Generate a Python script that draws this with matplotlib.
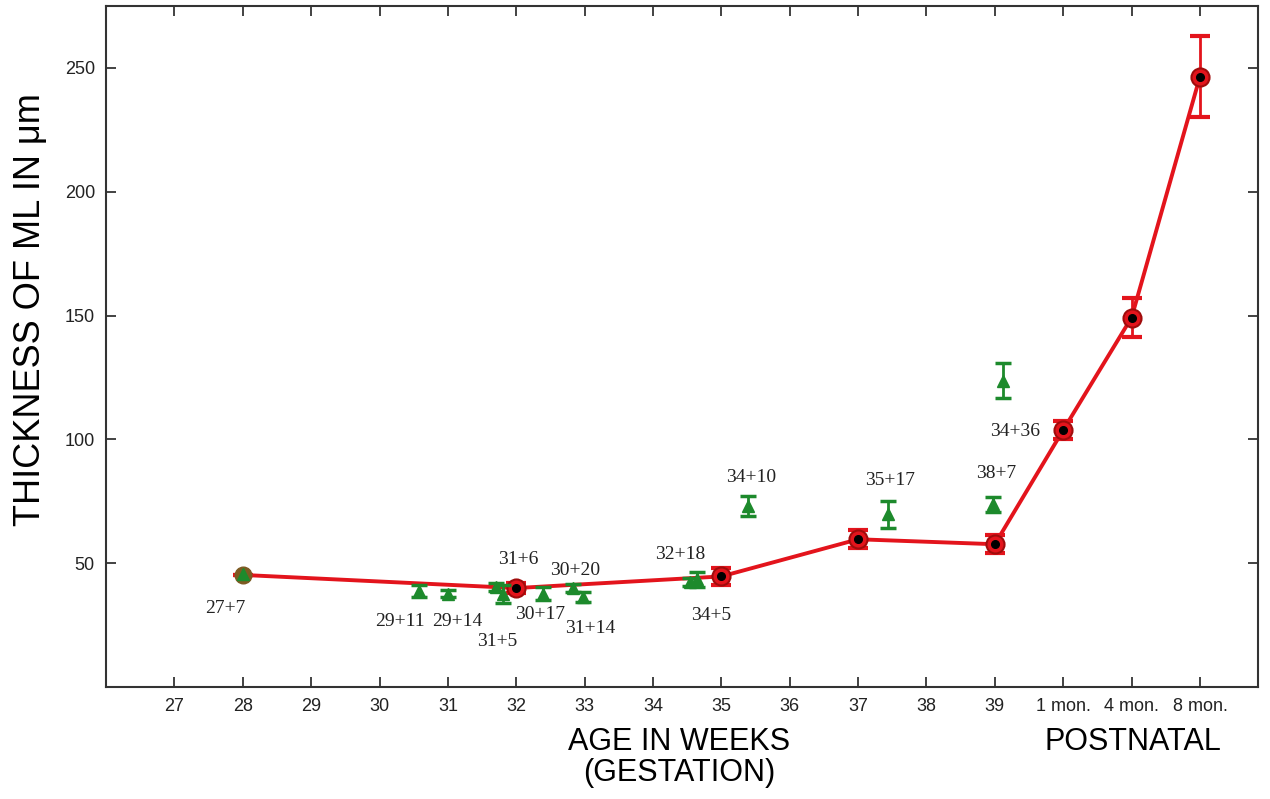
import matplotlib.pyplot as plt

plt.rcParams['font.family'] = 'Liberation Sans'

# age axis: gestational weeks 27-39, then postnatal months on 40-42
tick_pos = list(range(27, 43))
tick_labels = [str(w) for w in range(27, 40)] + ["1 mon.", "4 mon.", "8 mon."]

# mean thickness of ML, reference group (red)
ref_age = [28, 32, 35, 37, 39, 40, 41, 42]
ref_thick = [45.3, 40.0, 44.7, 59.7, 57.7, 103.8, 149.2, 246.5]
ref_err = [0.0, 2.0, 3.6, 3.6, 3.6, 3.5, 8.0, 16.5]

# individual cases (green)
case_age = [28.0, 30.58, 31.0, 31.70, 31.80, 32.39, 32.83, 32.98, 34.54, 34.65,
            35.39, 37.44, 38.97, 39.12]
case_thick = [45.5, 38.7, 37.7, 40.5, 37.6, 37.8, 40.0, 36.5, 42.5, 43.5,
              73.1, 69.8, 73.9, 123.7]
case_err = [0.0, 2.5, 1.5, 1.5, 3.6, 2.5, 1.5, 2.0, 1.5, 3.0,
            4.0, 5.5, 3.0, 7.0]

case_names = ["27+7", "29+11", "29+14", "31+5", "31+6", "30+20", "30+17",
              "31+14", "32+18", "34+5", "34+10", "35+17", "38+7", "34+36"]
name_pos = [(27.75, 31.8), (30.30, 26.5), (31.14, 26.5), (31.72, 18.4),
            (32.03, 51.6), (32.86, 47.2), (32.35, 29.4), (33.08, 23.7),
            (34.40, 53.6), (34.85, 28.9), (35.44, 84.8), (37.47, 83.6),
            (39.02, 86.4), (39.30, 103.4)]

red = "#e3141c"
green = "#1d8a2c"

fig = plt.figure(figsize=(12.7, 7.99), dpi=100)
ax = fig.add_axes([0.0835, 0.140, 0.9071, 0.8525])

# reference line with error bars
ax.errorbar(ref_age, ref_thick, yerr=ref_err, color=red, lw=2.8, ecolor=red,
            elinewidth=2, capsize=7, capthick=3, zorder=3)
ax.plot(ref_age[1:], ref_thick[1:], 'o', color=red, ms=13, mec="#a00c0c",
        mew=1.5, zorder=4)
ax.plot(ref_age[1:], ref_thick[1:], 'o', color="black", ms=5.5, zorder=5)
ax.plot(ref_age[0], ref_thick[0], 'o', color="#7d5a22", ms=12, zorder=4)

# single cases
ax.errorbar(case_age[1:], case_thick[1:], yerr=case_err[1:], fmt='none',
            ecolor=green, elinewidth=2, capsize=6, capthick=2.5, zorder=6)
ax.plot(case_age, case_thick, '^', color=green, ms=8, zorder=7)

for name, (tx, ty) in zip(case_names, name_pos):
    ax.text(tx, ty, name, family="Liberation Serif", fontsize=14,
            ha="center", va="center", color="#222222")

ax.set_xlim(26.0, 42.85)
ax.set_ylim(0, 275)
ax.set_xticks(tick_pos)
ax.set_xticklabels(tick_labels)
ax.set_yticks([50, 100, 150, 200, 250])
ax.tick_params(direction="in", length=7, width=1.2, top=True, right=True,
               labelsize=13, colors="#222222", pad=8)
for s in ax.spines.values():
    s.set_linewidth(1.5)
    s.set_color("#333333")

fig.text(0.024, 0.612, "THICKNESS OF ML IN μm", rotation=90, fontsize=26,
         ha="center", va="center")
fig.text(0.535, 0.071, "AGE IN WEEKS", fontsize=22, ha="center", va="center")
fig.text(0.535, 0.032, "(GESTATION)", fontsize=22, ha="center", va="center")
fig.text(0.892, 0.071, "POSTNATAL", fontsize=22, ha="center", va="center")

fig.savefig("out.png", dpi=100)
